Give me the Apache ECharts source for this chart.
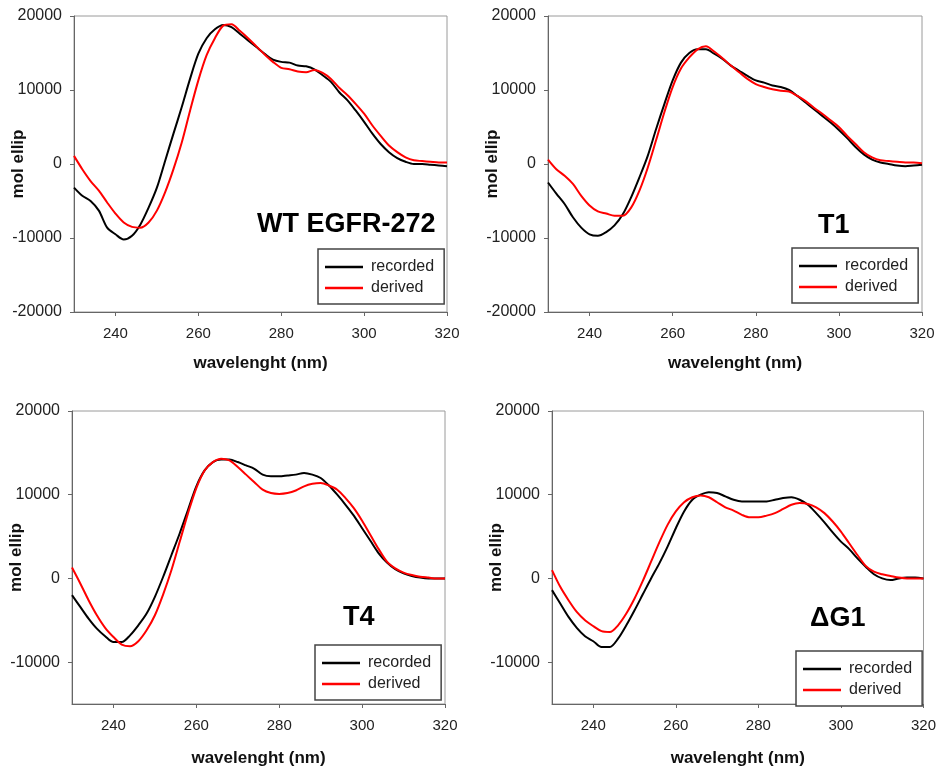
<!DOCTYPE html>
<html>
<head>
<meta charset="utf-8">
<script src="https://cdn.jsdelivr.net/npm/echarts@6/dist/echarts.min.js"></script>
<style>html,body{margin:0;padding:0;background:#fff;}#c{width:939px;height:771px;}</style>
</head>
<body>
<div id="c"></div>
<script>
// wavelengths (nm), 2 nm steps
const wavelengths = [230,232,234,236,238,240,242,244,246,248,250,252,254,256,258,260,262,264,266,268,270,272,274,276,278,280,282,284,286,288,290,292,294,296,298,300,302,304,306,308,310,312,314,316,318,320];
const xTicks = [240,260,280,300,320];
const yTicksTop = [-20000,-10000,0,10000,20000];
const yTicksBottom = [-10000,0,10000,20000];
const panelTitles = ['WT EGFR-272','T1','T4','ΔG1'];
const seriesNames = ['recorded','derived'];

// WT EGFR-272
const wtRecorded = [-3200,-4300,-5000,-6300,-8600,-9500,-10200,-9700,-8200,-5900,-3200,450,4100,7700,11500,14900,17000,18200,18800,18500,17600,16700,15800,14900,14100,13800,13700,13300,13200,12800,12000,11100,9700,8600,7200,5700,4100,2700,1600,800,300,0,0,-100,-200,-300];
const wtDerived = [1100,-700,-2300,-3600,-5200,-6700,-7900,-8500,-8600,-7900,-6300,-3800,-700,2900,7200,11300,14700,17000,18700,18900,18000,17000,15900,14800,13800,13000,12800,12500,12400,12700,12300,11500,10300,9300,8100,6800,5200,3800,2500,1600,900,500,400,300,200,200];
// T1
const t1Recorded = [-2500,-4000,-5400,-7200,-8600,-9500,-9700,-9200,-8300,-6800,-4500,-1800,1100,4700,8100,11300,13700,15000,15500,15500,14900,14200,13300,12600,11900,11300,11000,10600,10400,10000,9200,8300,7400,6500,5600,4600,3500,2300,1300,600,200,0,-200,-300,-200,-100];
const t1Derived = [600,-700,-1600,-2700,-4300,-5600,-6400,-6700,-7000,-7000,-5900,-3600,-500,3200,7000,10400,12900,14400,15500,15900,15200,14300,13300,12400,11500,10800,10400,10100,9900,9800,9200,8500,7600,6800,5900,5000,3800,2700,1600,900,500,400,300,200,200,100];
// T4
const t4Recorded = [-2000,-3400,-4800,-6000,-6900,-7600,-7600,-6800,-5600,-4200,-2200,200,2800,5400,8200,11000,12900,13900,14200,14200,13900,13500,13100,12400,12200,12200,12300,12400,12600,12400,12000,11100,10000,8800,7500,6000,4500,3000,1900,1100,600,300,100,0,0,0];
const t4Derived = [1300,-600,-2600,-4400,-5900,-7000,-7900,-8100,-7500,-6200,-4400,-1900,1000,4400,7800,10800,12900,13900,14300,14100,13300,12400,11500,10600,10200,10100,10200,10500,11000,11300,11400,11100,10600,9600,8400,6900,5200,3500,2000,1200,700,400,200,100,0,0];
// ΔG1
const g1Recorded = [-1400,-3000,-4600,-5900,-6900,-7500,-8200,-8200,-7200,-5600,-3800,-1900,0,1800,3800,6000,8000,9400,10000,10300,10200,9800,9400,9200,9200,9200,9200,9400,9600,9700,9400,8800,7800,6700,5500,4400,3500,2400,1400,500,0,-200,0,100,100,0];
const g1Derived = [1000,-1000,-2600,-4000,-5000,-5700,-6300,-6400,-5600,-4200,-2400,-300,2000,4300,6400,8000,9100,9700,9900,9700,9100,8500,8100,7600,7300,7300,7500,7800,8300,8800,9000,8900,8500,7800,6800,5600,4200,2800,1500,800,500,300,100,0,0,0];

const panelData = [[wtRecorded,wtDerived],[t1Recorded,t1Derived],[t4Recorded,t4Derived],[g1Recorded,g1Derived]];

const FONT = '"Liberation Sans", Arial, sans-serif';
const grids = [
  {left:74, top:16, width:373, height:296},
  {left:548, top:16, width:374, height:296},
  {left:72, top:411, width:373, height:293},
  {left:552, top:411, width:372, height:293}
];
const yMin = [-20000,-20000,-15000,-15000];
const xNameGap = [43,43,46,46];
const legendPos = [
  {left:318, top:249},
  {left:792, top:248},
  {left:315, top:645},
  {left:796, top:651}
];
const titlePos = [[257,225],[818,226],[343,618],[810,619]];
const colors = ['#000000','#ff0000'];

const option = {
  animation:false,
  backgroundColor:'#fff',
  grid: grids.map(g => Object.assign({show:true, borderColor:'#9a9a9a', borderWidth:1, backgroundColor:'transparent'}, g)),
  xAxis: grids.map((g,i) => ({
    type:'value', gridIndex:i, min:230, max:320,
    name:'wavelenght (nm)', nameLocation:'middle', nameGap:xNameGap[i], nameMoveOverlap:false,
    nameTextStyle:{fontFamily:FONT, fontSize:17, fontWeight:'bold', color:'#111'},
    axisLine:{show:true, onZero:false, lineStyle:{color:'#666', width:1}},
    axisTick:{show:true, inside:false, length:4, customValues:xTicks, lineStyle:{color:'#666'}},
    axisLabel:{customValues:xTicks, margin:14, fontFamily:FONT, fontSize:15, color:'#222',
      formatter:v => String(v)},
    splitLine:{show:false}
  })),
  yAxis: grids.map((g,i) => ({
    type:'value', gridIndex:i, min:yMin[i], max:20000,
    name:'mol ellip', nameLocation:'middle', nameGap:47, nameMoveOverlap:false,
    nameTextStyle:{fontFamily:FONT, fontSize:17, fontWeight:'bold', color:'#111'},
    axisLine:{show:true, onZero:false, lineStyle:{color:'#666', width:1}},
    axisTick:{show:true, inside:false, length:4, customValues:(i<2?yTicksTop:yTicksBottom), lineStyle:{color:'#666'}},
    axisLabel:{customValues:(i<2?yTicksTop:yTicksBottom), margin:12, fontFamily:FONT, fontSize:16, color:'#222',
      formatter:v => String(v)},
    splitLine:{show:false}
  })),
  legend: legendPos.map(p => ({
    left:p.left, top:p.top, orient:'vertical',
    data:seriesNames, icon:'rect', itemWidth:38, itemHeight:2.5, itemGap:5,
    padding:[10,10,8,7], borderColor:'#444', borderWidth:1.5, backgroundColor:'#fff',
    textStyle:{fontFamily:FONT, fontSize:16, color:'#222', padding:[0,0,0,3]},
    selectedMode:false
  })),
  graphic: panelTitles.map((t,i) => ({
    type:'text', x:titlePos[i][0], y:titlePos[i][1], z:100,
    style:{text:t, fontFamily:FONT, fontSize:27, fontWeight:'bold', fill:'#000', verticalAlign:'middle'}
  })),
  series: []
};

panelData.forEach((pair,i) => {
  pair.forEach((vals,k) => {
    option.series.push({
      type:'line', name:seriesNames[k], xAxisIndex:i, yAxisIndex:i,
      data: wavelengths.map((w,j) => [w, vals[j]]),
      symbol:'none', smooth:0.3, clip:true,
      lineStyle:{color:colors[k], width:2}, itemStyle:{color:colors[k]},
      z: 2 + k
    });
  });
});

const chart = echarts.init(document.getElementById('c'), null, {renderer:'canvas'});
chart.setOption(option);
</script>
</body>
</html>
